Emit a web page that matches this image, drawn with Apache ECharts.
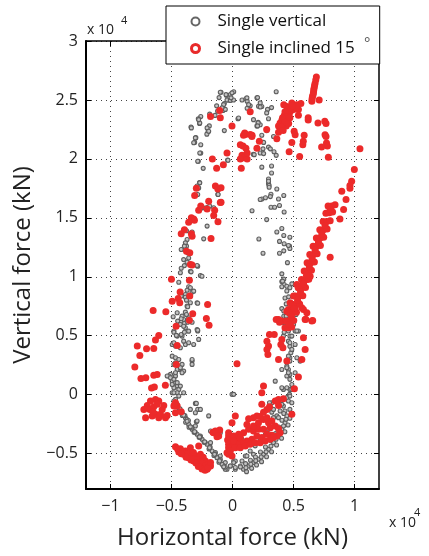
<!DOCTYPE html>
<html>
<head>
<meta charset="utf-8">
<script src="https://cdn.jsdelivr.net/npm/echarts@6/dist/echarts.min.js"></script>
<style>html,body{margin:0;padding:0;background:#fff;}#c{width:429px;height:556px;}</style>
</head>
<body>
<div id="c"></div>
<script>
// Values in units of 10^4 kN
const xTicks = [-1, -0.5, 0, 0.5, 1];
const yTicks = [-0.5, 0, 0.5, 1, 1.5, 2, 2.5, 3];
const seriesNames = ['Single vertical', 'Single inclined 15'];

const singleVertical = [
[-0.094,2.565],[-0.05,2.54],[-0.018,2.546],[0.01,2.57],[-0.037,2.50],[-0.067,2.47],[-0.13,2.45],[-0.11,2.52],[-0.078,2.41],[-0.187,2.38],[-0.26,2.36],[-0.28,2.34],[-0.27,2.30],[-0.34,2.27],[-0.19,2.28],[-0.2,2.23],[-0.21,2.21],[-0.30,2.18],[-0.31,2.14],[-0.26,2.12],[-0.067,2.24],[0.045,2.34],[-0.26,2.05],[-0.28,1.98],[-0.04,1.99],[-0.24,1.92],[0.078,2.50],[0.11,2.51],[0.12,2.49],[0.145,2.45],[0.12,2.43],[0.21,2.31],[0.2,2.28],[0.17,2.04],[-0.27,1.80],[-0.29,1.77],[-0.12,1.70],[-0.2,1.59],[-0.24,1.585],
[-0.1,2.565],[-0.053,2.545],[-0.004,2.56],[-0.045,2.50],[-0.018,2.496],[-0.073,2.46],[-0.059,2.42],[-0.086,2.433],[0.009,2.50],[-0.012,2.518],[-0.122,2.405],[-0.143,2.369],[-0.268,2.305],[-0.277,2.333],[-0.208,2.263],[-0.195,2.235],[-0.337,2.263],[-0.304,2.178],[-0.318,2.137],[-0.268,2.05],[-0.285,1.98],[-0.037,1.988],[0.05,2.347],[0.118,2.518],[0.132,2.46],[0.2,2.518],[0.213,2.446],[0.227,2.475],[0.227,2.29],[0.172,2.333],[0.178,2.036],[0.227,2.05],
[0.358,2.57],[0.205,2.52],[0.24,2.445],[0.227,2.44],[0.287,2.42],[0.32,2.435],[0.28,2.39],[0.295,2.34],[0.21,2.305],[0.205,2.28],[0.28,2.24],[0.24,2.20],[0.336,2.19],[0.255,2.14],[0.295,2.10],[0.31,2.085],[0.25,2.085],[0.34,2.06],[0.255,2.045],[0.358,2.03],[0.24,1.93],[0.32,1.94],[0.32,1.88],[0.295,1.83],[0.295,1.79],[0.30,1.775],[0.363,1.745],[0.315,1.70],[0.31,1.68],[0.42,1.69],[0.24,1.66],[0.27,1.67],
[0.295,1.81],[0.30,1.76],[0.377,1.66],[0.385,1.605],[0.315,1.59],[0.345,1.59],[0.16,1.56],[0.423,1.55],[0.28,1.485],[0.363,1.38],[0.404,1.41],[0.42,1.35],[0.216,1.32],[0.47,1.335],[0.385,1.30],[0.423,1.28],[0.467,1.26],[0.47,1.24],[0.25,1.20],[0.385,1.20],[0.42,1.22],[0.45,1.12],[0.404,1.025],[0.42,0.98],[0.404,0.96],[0.423,0.935],[0.404,0.915],[0.445,0.92],[0.486,0.94],[0.445,0.88],[0.43,0.82],[0.46,0.83],[0.44,0.77],[0.404,0.73],[0.42,0.71],[0.42,0.665],[0.486,0.74],[0.52,0.68],[0.423,0.61],[0.50,0.595],[0.458,1.265],[0.227,1.655],
[0.41,0.963],[0.47,0.907],[0.44,0.666],[0.47,0.61],[0.467,0.568],[0.513,0.54],[0.54,0.54],[0.47,0.497],[0.458,0.454],[0.47,0.41],[0.478,0.356],[0.47,0.313],[0.527,0.313],[0.404,0.214],[0.445,0.242],[0.458,0.214],[0.47,0.172],[0.445,0.158],[0.486,0.087],[0.47,0.045],[0.467,0.003],[0.35,0.115],[0.417,0.045],[0.445,-0.025],[0.458,-0.054],[0.322,-0.068],[0.377,-0.082],[0.417,-0.097],[0.39,-0.139],[0.31,-0.11],[0.322,-0.148],[0.363,-0.18],[0.336,-0.195],[0.322,-0.25],[0.295,-0.294],[0.27,-0.336],[0.227,-0.379],[0.186,-0.434],[0.145,-0.478],[0.105,-0.52],[0.078,-0.563],[0.064,-0.605],
[0.09,-0.633],[0.132,-0.605],[0.172,-0.576],[0.213,-0.548],[0.254,-0.506],[0.295,-0.464],[0.336,-0.407],[0.377,-0.35],[0.404,-0.294],[0.43,-0.237],[0.445,-0.18],[0.47,-0.125],[0.486,-0.068],[0.47,-0.012],[0.486,0.045],[0.445,0.059],[0.47,0.13],[0.458,0.186],[0.445,0.229],[0.47,0.285],[0.458,0.327],[0.486,0.384],[0.47,0.44],[0.486,0.497],[0.458,0.54],[0.513,0.426],[0.527,0.54],[0.554,0.285],[0.513,0.186],[0.417,0.497],[0.423,0.53],[0.404,0.059],[-0.1,-0.52],[-0.059,-0.576],[-0.018,-0.605],[0.01,-0.563],[0.023,-0.633],[0.303,-0.068],[0.336,-0.125],[0.404,-0.082],[0.43,-0.139],[0.377,-0.195],[0.172,-0.506],[0.023,-0.563],[-0.073,-0.605],[-0.045,-0.633],[-0.004,0.003],
[0.115,-0.653],[0.157,-0.625],[0.197,-0.596],[0.238,-0.568],[0.279,-0.526],[0.32,-0.484],[0.361,-0.427],[0.402,-0.37],[0.429,-0.314],[0.455,-0.257],[0.47,-0.2],
[0.065,-0.613],[0.107,-0.585],[0.147,-0.556],[0.188,-0.528],[0.229,-0.486],[0.27,-0.444],[0.311,-0.387],[0.352,-0.33],[0.379,-0.274],[0.405,-0.217],[0.42,-0.16],
[0.11,-0.62],[0.15,-0.59],[0.19,-0.56],[0.235,-0.528],[0.275,-0.485],[0.315,-0.436],[0.357,-0.378],[0.39,-0.322],[0.418,-0.265],[0.438,-0.208],
[-0.453,-0.082],[-0.413,-0.153],[-0.386,-0.195],[-0.359,-0.252],[-0.331,-0.294],[-0.29,-0.336],[-0.249,-0.379],[-0.208,-0.421],[-0.167,-0.478],[-0.127,-0.534],[-0.086,-0.591],[-0.059,-0.633],[-0.372,-0.21],[-0.304,-0.266],[-0.263,-0.35],[-0.18,-0.407],[-0.14,-0.49],[-0.1,-0.548],[-0.296,-0.23],[-0.285,-0.125],[-0.304,-0.074],[-0.18,-0.308],[-0.018,-0.605],[0.01,-0.576],[0.023,-0.618],
[-0.39,-0.177],[-0.361,-0.219],[-0.334,-0.276],[-0.306,-0.318],[-0.265,-0.36],[-0.224,-0.403],[-0.183,-0.445],[-0.142,-0.502],[-0.102,-0.558],[-0.061,-0.615],
[-0.438,-0.135],[-0.411,-0.177],[-0.384,-0.234],[-0.356,-0.276],[-0.315,-0.318],[-0.274,-0.361],[-0.233,-0.403],[-0.192,-0.46],[-0.152,-0.516],[-0.111,-0.573],
[-0.43,-0.12],[-0.4,-0.175],[-0.372,-0.225],[-0.345,-0.273],[-0.31,-0.315],[-0.27,-0.358],[-0.228,-0.4],[-0.188,-0.45],[-0.147,-0.506],[-0.106,-0.562],[-0.072,-0.612],
[-0.296,-0.074],[-0.345,-0.125],[-0.304,-0.153],[-0.263,-0.125],[-0.29,-0.223],[-0.195,-0.18],[-0.1,-0.322],[-0.113,-0.35],[0.077,-0.379],[0.037,-0.407],[0.118,-0.52],[0.01,0.003],
[-0.494,0.426],[-0.467,0.412],[-0.48,0.44],[-0.494,0.327],[-0.467,0.313],[-0.467,0.27],[-0.48,0.257],[-0.44,0.242],[-0.413,0.257],[-0.4,0.2],[-0.413,0.186],[-0.44,0.214],[-0.467,0.158],[-0.508,0.172],[-0.522,0.158],[-0.494,0.115],[-0.467,0.1],[-0.453,0.073],[-0.44,0.045],[-0.48,0.059],[-0.494,0.017],[-0.453,0.017],[-0.44,-0.012],[-0.467,-0.04],[-0.48,-0.054],[-0.331,0.285],[-0.331,0.257],[-0.386,0.426],[-0.359,0.44],[-0.318,0.426],[-0.277,0.469],[-0.285,0.54],[-0.413,0.497],[-0.48,0.54],
[-0.44,0.954],[-0.427,1.034],[-0.359,0.915],[-0.345,1.047],[-0.372,0.886],[-0.331,0.87],[-0.386,0.85],[-0.318,0.878],[-0.263,1.011],[-0.29,0.78],[-0.372,0.751],[-0.386,0.70],[-0.453,0.695],[-0.413,0.666],[-0.359,0.653],[-0.4,0.638],[-0.449,0.624],[-0.331,0.615],[-0.427,0.596],[-0.386,0.568],[-0.29,0.553],[-0.359,0.539],[-0.453,0.497],[-0.4,0.454],[-0.427,0.398],[-0.44,0.299],[-0.331,0.299],[-0.453,0.214],[-0.427,0.229],[-0.467,0.186],[-0.535,0.158],[-0.508,0.144],[-0.48,0.13],[-0.453,0.102],[-0.427,0.073],[-0.494,0.087],[-0.48,0.017],[-0.4,0.017],
[-0.372,1.316],[-0.377,1.26],[-0.386,1.231],[-0.367,1.203],[-0.359,1.16],[-0.394,1.095],[-0.372,1.124],[-0.42,1.073],[-0.339,1.042],[-0.285,1.09],[-0.208,1.43],[-0.236,1.322],[-0.331,1.38],[-0.345,0.907],[-0.42,0.836],[-0.386,0.827],[-0.359,0.836],[-0.377,0.802],[-0.345,0.78],[-0.285,0.775],[-0.367,0.746],[-0.486,0.661],[-0.42,0.644],[-0.377,0.68],[-0.394,0.604],[-0.4,0.581],[-0.367,0.615],[-0.285,0.547],[-0.48,0.53],[-0.46,0.503],[-0.42,0.511],[-0.394,0.53],
[-0.377,1.39],[-0.386,1.288],[-0.394,1.26],[-0.42,1.231],[-0.4,1.146],[-0.29,1.096],[-0.25,1.005],[-0.25,1.585],[-0.214,1.585],[-0.154,1.585],[-0.187,1.60],[-0.277,1.754],[-0.268,1.797],[-0.285,1.698],[-0.118,1.698]
];

const singleInclined15 = [
[-0.105,2.41],[-0.18,2.36],[-0.1,2.35],[-0.004,2.28],[0.145,2.40],[0.1,2.22],[0.09,2.20],[0.16,2.20],[0.22,2.15],[0.086,2.11],[0.11,2.09],[0.2,2.09],[0.078,2.03],[0.09,2.01],[0.12,2.0],[0.12,2.05],[-0.045,2.05],[-0.165,2.0],[-0.075,1.95],[-0.13,1.92],[0.072,1.92],[-0.14,1.77],[-0.12,1.745],[-0.094,1.755],[-0.296,1.75],[-0.31,1.69],[-0.1,1.63],[-0.195,1.64],[-0.26,1.60],
[0.064,2.12],[0.105,2.206],[0.159,2.19],[0.064,2.0],[0.145,2.206],
[-0.094,1.633],[-0.277,1.565],[-0.208,1.576],[-0.146,1.565],[-0.337,1.50],[-0.318,1.49],[-0.312,1.48],[-0.359,1.463],[-0.154,1.52],[-0.119,1.466],[-0.394,1.40],[-0.42,1.365],[-0.337,1.365],[-0.331,1.344],[-0.176,1.325],[-0.377,1.217],[-0.35,1.203],[-0.345,1.104],[-0.331,1.10],[-0.5,0.979],[-0.353,0.97],[-0.429,0.87],[-0.445,0.816],[-0.494,0.793],[-0.204,0.765],[-0.65,0.714],[-0.546,0.703],[-0.326,0.686],[-0.353,0.632],[-0.214,0.647],[-0.192,0.59],[-0.462,0.581],[-0.604,0.503],
[-0.35,0.836],[-0.432,0.78],[-0.631,0.463],[-0.645,0.392],[-0.78,0.412],[-0.704,0.39],[-0.759,0.333],[-0.80,0.234],[-0.75,0.138],[-0.71,0.144],[-0.645,0.164],[-0.617,0.172],[-0.663,0.056],[-0.64,0.065],[-0.55,0.081],[-0.46,0.257],[-0.453,0.418],[-0.476,-0.088],[-0.453,-0.097],[-0.467,-0.153],[-0.42,-0.144],[-0.277,-0.436],[-0.16,-0.318],[-0.132,-0.313],[-0.105,-0.30],[-0.018,-0.35],[-0.04,-0.385],[-0.004,-0.237],[0.037,0.263],
[-0.631,-0.04],[-0.604,-0.054],[-0.672,-0.054],[-0.698,-0.091],[-0.726,-0.125],[-0.677,-0.125],[-0.645,-0.102],[-0.617,-0.082],[-0.563,-0.091],[-0.576,-0.125],[-0.631,-0.167],[-0.658,-0.181],[-0.604,-0.195],[-0.549,-0.195],[-0.712,-0.195],[-0.59,-0.167],[-0.535,-0.176],[-0.65,-0.148],[-0.48,-0.097],[-0.467,-0.068],
[-0.467,-0.441],[-0.427,-0.458],[-0.386,-0.478],[-0.345,-0.497],[-0.304,-0.52],[-0.263,-0.543],[-0.222,-0.562],[-0.195,-0.591],[-0.236,-0.618],[-0.277,-0.591],[-0.318,-0.562],[-0.359,-0.534],[-0.4,-0.506],[-0.44,-0.486],[-0.208,-0.633],[-0.345,-0.45],[-0.263,-0.506],[-0.18,-0.605],
[-0.45,-0.46],[-0.41,-0.48],[-0.37,-0.5],[-0.33,-0.525],[-0.29,-0.55],[-0.25,-0.57],[-0.22,-0.6],[-0.25,-0.63],[-0.3,-0.58],[-0.34,-0.555],[-0.38,-0.53],[-0.42,-0.5],[-0.225,-0.64],[-0.2,-0.62],[-0.28,-0.61],[-0.32,-0.49],[-0.24,-0.53],[-0.18,-0.575],
[-0.154,-0.322],[-0.127,-0.356],[-0.14,-0.308],[-0.113,-0.35],[-0.032,-0.35],[-0.012,-0.393],[-0.032,-0.421],[-0.018,-0.464],[-0.032,-0.506],[-0.004,-0.52],[0.037,-0.379],[0.05,-0.436],
[-0.032,-0.322],[0.009,-0.35],[0.05,-0.336],[0.091,-0.322],[0.132,-0.294],[0.172,-0.308],[0.213,-0.294],[0.254,-0.294],[0.309,-0.28],[0.35,-0.266],[0.377,-0.288],[0.39,-0.322],[0.363,-0.35],[0.322,-0.345],[0.282,-0.336],[0.241,-0.364],[0.2,-0.35],[0.159,-0.379],[0.118,-0.393],[0.078,-0.407],[0.037,-0.421],[-0.004,-0.436],[-0.032,-0.45],[-0.045,-0.492],[-0.018,-0.478],[0.023,-0.45],[0.064,-0.45],[0.105,-0.436],[0.145,-0.421],[0.186,-0.407],[0.227,-0.407],[0.268,-0.393],[0.309,-0.379],[0.336,-0.364],[0.009,-0.393],[0.064,-0.364],[0.2,-0.266],[0.295,-0.237],
[0.303,0.511],[0.342,0.511],[0.282,0.454],[0.295,0.412],[0.282,0.384],[0.29,0.341],[0.404,0.469],[0.396,0.426],[0.413,0.398],[0.581,0.483],[0.595,0.384],[0.568,0.299],[0.377,0.299],[0.445,0.285],[0.54,0.149],[0.507,0.051],[0.254,0.073],[0.24,0.017],[0.417,-0.034],[0.377,-0.04],[0.35,-0.054],[0.377,-0.091],[0.303,-0.102],[0.282,-0.125],[0.24,-0.082],[0.254,-0.148],[0.486,-0.167],[0.172,-0.195],[0.2,-0.181],[0.227,-0.186],[0.132,-0.204],[0.254,-0.21],[0.282,-0.195],[0.322,-0.223],[0.118,-0.252],[0.172,-0.266],[0.213,-0.237],[0.023,-0.18],[0.363,-0.054],
[0.554,0.907],[0.50,0.836],[0.472,0.78],[0.458,0.723],[0.445,0.708],[0.581,0.723],[0.609,0.695],[0.595,0.638],[0.65,0.624],[0.377,0.638],[0.358,0.638],[0.404,0.624],[0.472,0.624],[0.527,0.935],[0.581,0.949],[0.609,0.977],[0.636,1.005],
[0.962,1.75],[0.976,1.81],[0.895,1.725],[0.93,1.655],[0.91,1.57],[0.88,1.49],[0.80,1.165],[0.513,0.737],[0.568,0.737],[0.657,0.63],[0.60,0.64],[0.385,0.615],
[0.783,1.60],[0.813,1.60],[0.84,1.61],[0.765,1.54],[0.793,1.543],[0.82,1.55],[0.742,1.47],[0.772,1.47],[0.80,1.475],[0.715,1.40],[0.745,1.40],[0.775,1.405],[0.687,1.33],[0.717,1.33],[0.747,1.335],[0.66,1.26],[0.69,1.26],[0.72,1.265],[0.633,1.19],[0.663,1.19],[0.693,1.195],[0.611,1.12],[0.641,1.12],[0.671,1.125],[0.587,1.05],[0.617,1.05],[0.647,1.055],[0.565,0.977],[0.595,0.977],[0.625,0.98],[0.538,0.907],[0.568,0.907],[0.598,0.91],[0.516,0.836],[0.546,0.836],[0.576,0.84],[0.49,0.765],[0.52,0.765],[0.55,0.77],[0.464,0.695],[0.494,0.695],[0.524,0.70],[0.442,0.624],[0.502,0.63],[0.43,0.568],[0.458,0.568],[0.485,0.575],
[0.80,1.57],[0.758,1.435],[0.731,1.365],[0.704,1.295],[0.677,1.225],[0.652,1.155],[0.629,1.085],[0.606,1.013],[0.582,0.942],[0.557,0.871],[0.533,0.8],[0.507,0.73],[0.483,0.66],[0.465,0.596],
[0.687,2.695],[0.676,2.64],[0.668,2.60],[0.663,2.56],[0.655,2.53],[0.65,2.49],[0.71,2.50],[0.486,2.475],[0.527,2.46],[0.56,2.47],[0.445,2.445],[0.50,2.42],[0.467,2.39],[0.42,2.46],[0.54,2.42],[0.425,2.37],[0.405,2.33],[0.445,2.33],[0.39,2.305],[0.42,2.29],[0.377,2.28],[0.44,2.28],[0.396,2.255],[0.54,2.37],[0.62,2.35],[0.62,2.33],[0.505,2.235],[0.513,2.205],[0.377,2.225],[0.363,2.17],[0.28,2.25],[0.486,2.14],[0.587,2.20],[0.58,2.15],[0.576,2.12],[0.464,2.06],[0.55,2.02],[0.70,2.305],[0.756,2.32],[0.766,2.30],[0.758,2.205],[0.766,2.19],[0.77,2.135],[0.777,2.11],[0.73,2.10],[0.785,2.015],[1.044,2.085],[0.998,1.91],[0.962,1.775],
[0.46,2.43],[0.48,2.41],[0.43,2.40],[0.45,2.36],[0.41,2.35],[0.47,2.35],[0.43,2.31],[0.40,2.27],[0.52,2.44],[0.49,2.45],[0.46,2.30],[0.415,2.24],
[0.682,2.67],[0.672,2.62],[0.665,2.58],[0.66,2.545],[0.652,2.51]
];

const FONT = '"Open Sans", sans-serif';
const fmt = v => (v < 0 ? '\u2212' + Math.abs(v) : String(v));

const chart = echarts.init(document.getElementById('c'), null, {renderer: 'canvas'});
chart.setOption({
  animation: false,
  backgroundColor: '#fff',
  grid: {left: 86, right: 50, top: 41, bottom: 67, containLabel: false},
  xAxis: [{
    type: 'value', min: -1.2, max: 1.2, position: 'bottom',
    axisLine: {onZero: false, lineStyle: {color: '#000', width: 2}},
    axisTick: {inside: true, length: 5, customValues: xTicks, lineStyle: {color: '#000', width: 1}},
    axisLabel: {customValues: xTicks, formatter: fmt, fontFamily: FONT, fontSize: 16, color: '#222', margin: 9},
    splitLine: {show: true, lineStyle: {color: '#444', width: 1, type: [1, 4]}},
    name: 'Horizontal force (kN)', nameLocation: 'middle', nameGap: 37,
    nameTextStyle: {fontFamily: FONT, fontSize: 24, color: '#222'}
  }, {
    type: 'value', min: -1.2, max: 1.2, position: 'top',
    axisLine: {onZero: false, lineStyle: {color: '#000', width: 1.5}},
    axisTick: {inside: true, length: 5, customValues: xTicks, lineStyle: {color: '#000'}},
    axisLabel: {show: false}, splitLine: {show: false}
  }],
  yAxis: [{
    type: 'value', min: -0.8, max: 3, position: 'left',
    axisLine: {onZero: false, lineStyle: {color: '#000', width: 2}},
    axisTick: {inside: true, length: 5, customValues: yTicks, lineStyle: {color: '#000', width: 1}},
    axisLabel: {customValues: yTicks, formatter: fmt, fontFamily: FONT, fontSize: 16, color: '#222', margin: 8},
    splitLine: {show: true, lineStyle: {color: '#444', width: 1, type: [1, 4]}},
    name: 'Vertical force (kN)', nameLocation: 'middle', nameGap: 40,
    nameTextStyle: {fontFamily: FONT, fontSize: 24, color: '#222'}
  }, {
    type: 'value', min: -0.8, max: 3, position: 'right',
    axisLine: {onZero: false, lineStyle: {color: '#000', width: 1.5}},
    axisTick: {inside: true, length: 5, customValues: yTicks, lineStyle: {color: '#000'}},
    axisLabel: {show: false}, splitLine: {show: false}
  }],
  legend: {
    orient: 'vertical', left: 166, top: 6,
    padding: [7, 25, 7, 24], itemGap: 10, itemWidth: 34, itemHeight: 8,
    borderColor: '#000', borderWidth: 1, backgroundColor: '#fff',
    textStyle: {fontFamily: FONT, fontSize: 17, color: '#111'},
    data: [
      {name: seriesNames[0], icon: 'circle', itemStyle: {color: '#fff', borderColor: '#666', borderWidth: 2}},
      {name: seriesNames[1], icon: 'circle', itemStyle: {color: '#fff', borderColor: '#e82a2a', borderWidth: 3}}
    ]
  },
  graphic: [
    {type: 'text', left: 87, top: 23, z: 100, style: {text: 'x 10', font: '14px ' + FONT, fill: '#222'}},
    {type: 'text', left: 121, top: 15, z: 100, style: {text: '4', font: '11px ' + FONT, fill: '#222'}},
    {type: 'text', left: 389, top: 516, z: 100, style: {text: 'x 10', font: '14px ' + FONT, fill: '#222'}},
    {type: 'text', left: 414, top: 507, z: 100, style: {text: '4', font: '11px ' + FONT, fill: '#222'}},
    {type: 'text', left: 364, top: 36, z: 100, style: {text: '\u00b0', font: '15px ' + FONT, fill: '#555'}}
  ],
  series: [{
    name: seriesNames[0], type: 'scatter', xAxisIndex: 0, yAxisIndex: 0,
    symbol: 'circle', symbolSize: 4,
    itemStyle: {color: '#c4c4c4', borderColor: '#5e5e5e', borderWidth: 1.1, opacity: 1},
    data: singleVertical, z: 2
  }, {
    name: seriesNames[1], type: 'scatter', xAxisIndex: 0, yAxisIndex: 0,
    symbol: 'circle', symbolSize: 7,
    itemStyle: {color: '#ec2a2a', opacity: 1},
    data: singleInclined15, z: 3
  }]
});
</script>
</body>
</html>
